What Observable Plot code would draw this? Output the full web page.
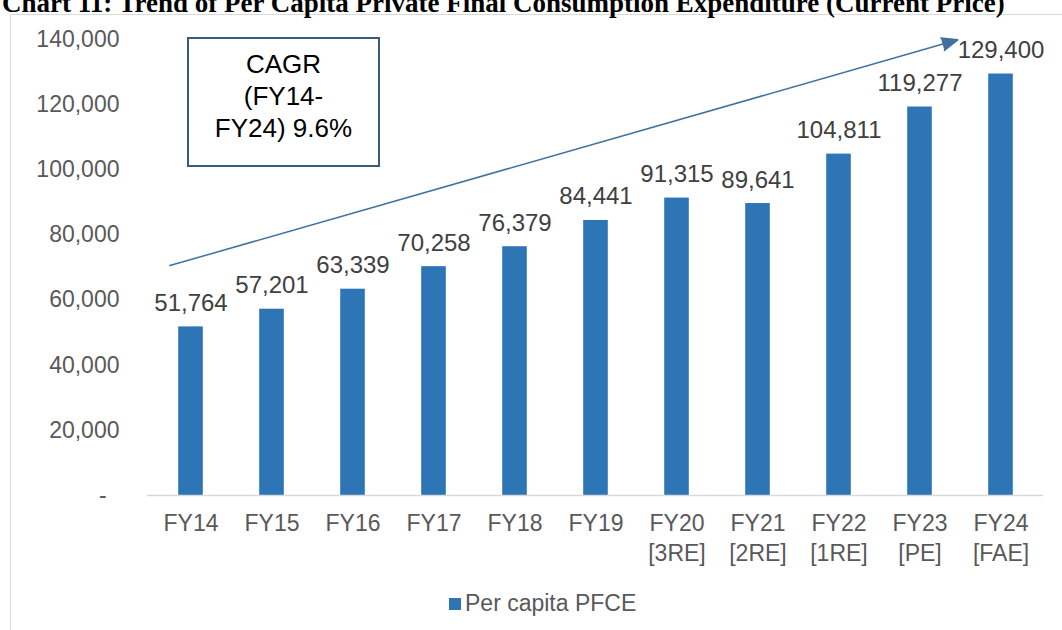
<!DOCTYPE html>
<html>
<head>
<meta charset="utf-8">
<script src="https://cdn.jsdelivr.net/npm/d3@7"></script>
<script src="https://cdn.jsdelivr.net/npm/@observablehq/plot@0.6"></script>
<style>
  body { margin: 0; background: #fff; font-family: Arial, "Liberation Sans", sans-serif; }
  #wrap { position: relative; width: 1062px; height: 630px; overflow: hidden; background: #fff; }
  #title { position: absolute; left: 2px; top: -12px; font-family: "Liberation Serif", "Times New Roman", serif;
           font-weight: bold; font-size: 27px; line-height: 30px; white-space: nowrap; color: #000; }
  #frame { position: absolute; left: 10px; top: 14px; width: 1200px; height: 800px;
           border-left: 1px solid #d9d9d9; border-top: 1px solid #d9d9d9; }
  #chart { position: absolute; left: 0; top: 0; }
  #cagr { position: absolute; left: 187px; top: 37px; width: 193px; height: 130px; box-sizing: border-box;
          border: 2px solid #3b5b7b; background: #fff; text-align: center; font-size: 26px; line-height: 32px;
          padding-top: 9px; color: #000; }
  #legend { position: absolute; left: 449px; top: 590px; font-size: 23px; color: #595959; display: flex; align-items: center; }
  #legend .sw { width: 12px; height: 12px; background: #2e75b6; margin-right: 4px; }
  #chart svg g[aria-label="y-axis tick label"] { fill: #595959; }
</style>
</head>
<body>
<div id="wrap">
  <div id="frame"></div>
  <div id="title"></div>
  <div id="chart"></div>
  <div id="cagr"></div>
  <div id="legend"><div class="sw"></div><span id="legtext"></span></div>
</div>
<script>
// ---- data ----
const titleText = "Chart 11: Trend of Per Capita Private Final Consumption Expenditure (Current Price)";
const categories = ["FY14", "FY15", "FY16", "FY17", "FY18", "FY19", "FY20", "FY21", "FY22", "FY23", "FY24"];
const subLabels = ["", "", "", "", "", "", "[3RE]", "[2RE]", "[1RE]", "[PE]", "[FAE]"];
const values = [51764, 57201, 63339, 70258, 76379, 84441, 91315, 89641, 104811, 119277, 129400];
const yTicks = [0, 20000, 40000, 60000, 80000, 100000, 120000, 140000];
const seriesName = "Per capita PFCE";
const cagrLines = ["CAGR", "(FY14-", "FY24) 9.6%"];
// trend arrow anchors (category, value)
const arrowStart = ["FY14", 72450];
const arrowEnd = ["FY24", 143700];

// ---- build ----
document.getElementById("title").textContent = titleText;
document.getElementById("legtext").textContent = seriesName;
document.getElementById("cagr").innerHTML = cagrLines.join("<br>");

const rows = categories.map((c, i) => ({cat: c, sub: subLabels[i], value: values[i]}));
const fmt = d3.format(",");
const arrowRows = [{x1: arrowStart[0], y1: arrowStart[1], x2: arrowEnd[0], y2: arrowEnd[1]}];

const chart = Plot.plot({
  width: 1062,
  height: 570,
  marginLeft: 147,
  marginRight: 19,
  marginTop: 39,
  marginBottom: 75,
  style: {fontFamily: "Arial, 'Liberation Sans', sans-serif", background: "transparent"},
  x: {domain: categories, padding: 0, axis: null},
  y: {domain: [0, 140000], axis: null},
  marks: [
    Plot.axisY(yTicks, {
      tickSize: 0, tickPadding: 28, fontSize: 23,
      tickFormat: d => d === 0 ? "-\u00a0\u00a0" : fmt(d)
    }),
    Plot.barY(rows, {x: "cat", y: "value", fill: "#2e75b6", insetLeft: 28.2, insetRight: 28.2}),
    Plot.ruleY([0], {stroke: "#d9d9d9", strokeWidth: 1.3}),
    Plot.text(rows, {
      x: "cat", y: () => 0, dy: 15, lineAnchor: "top", lineHeight: 1.28,
      text: d => d.sub ? d.cat + "\n" + d.sub : d.cat,
      fontSize: 23, fill: "#595959"
    }),
    Plot.text(rows, {
      x: "cat", y: "value", dy: -16, lineAnchor: "bottom",
      text: d => fmt(d.value), fontSize: 24, fill: "#404040"
    }),
    Plot.arrow(arrowRows, {
      x1: "x1", y1: "y1", x2: "x2", y2: "y2",
      stroke: "#41719c", fill: "#41719c", strokeWidth: 1.5,
      headLength: 17, headAngle: 45, insetStart: -22, insetEnd: 45
    })
  ]
});
document.getElementById("chart").appendChild(chart);
</script>
</body>
</html>
